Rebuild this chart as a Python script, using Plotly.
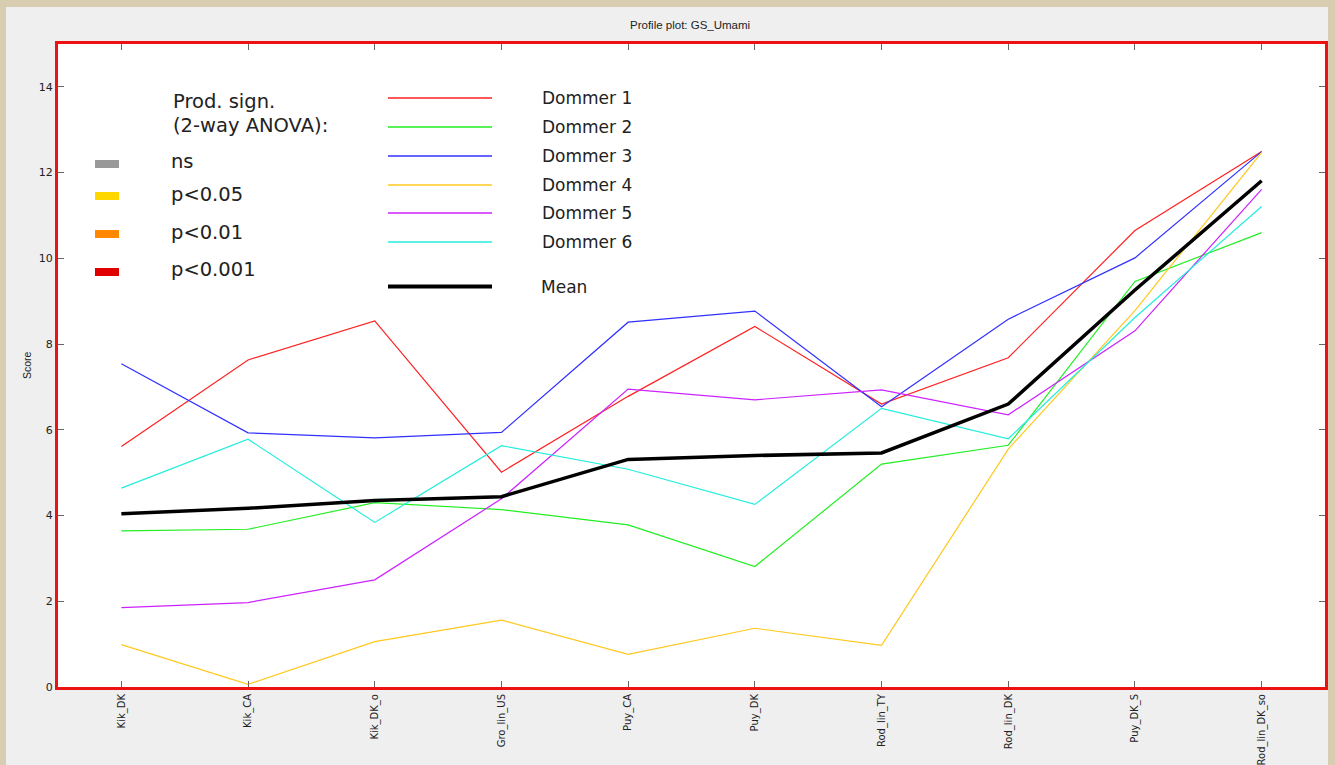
import plotly.graph_objects as go

# Products on the x axis
categories = ["Kik_DK", "Kik_CA", "Kik_DK_o", "Gro_lin_US", "Puy_CA",
              "Puy_DK", "Rod_lin_TY", "Rod_lin_DK", "Puy_DK_S", "Rod_lin_DK_so"]

# Umami scores per assessor
dommer_1 = [5.61, 7.63, 8.54, 5.01, 6.78, 8.41, 6.60, 7.68, 10.65, 12.49]
dommer_2 = [3.64, 3.68, 4.30, 4.14, 3.78, 2.81, 5.20, 5.64, 9.46, 10.60]
dommer_3 = [7.54, 5.93, 5.81, 5.94, 8.51, 8.77, 6.54, 8.58, 10.01, 12.49]
dommer_4 = [0.99, 0.06, 1.06, 1.56, 0.76, 1.37, 0.97, 5.55, 8.78, 12.47]
dommer_5 = [1.85, 1.97, 2.50, 4.39, 6.95, 6.70, 6.93, 6.35, 8.31, 11.61]
dommer_6 = [4.64, 5.78, 3.84, 5.63, 5.08, 4.26, 6.50, 5.79, 8.62, 11.21]
mean_score = [4.04, 4.17, 4.35, 4.44, 5.31, 5.40, 5.46, 6.60, 9.26, 11.81]

assessor_names = ["Dommer 1", "Dommer 2", "Dommer 3", "Dommer 4", "Dommer 5", "Dommer 6"]
assessor_colors = ["#ff2020", "#22ee22", "#3030ff", "#ffc81e", "#cc22ff", "#22eedd"]

sign_labels = ["ns", "p<0.05", "p<0.01", "p<0.001"]
sign_colors = ["#999999", "#ffd700", "#ff8800", "#e00000"]

yticks = [0, 2, 4, 6, 8, 10, 12, 14]

W, H = 1335, 765
ML, MR, MT, MB = 58, 10, 44, 78
PW, PH = W - ML - MR, H - MT - MB


def px(x):
    return (x - ML) / PW


def py(y):
    return (H - MB - y) / PH


xs = list(range(len(categories)))
fig = go.Figure()
for name, vals, col in zip(assessor_names,
                           [dommer_1, dommer_2, dommer_3, dommer_4, dommer_5, dommer_6],
                           assessor_colors):
    fig.add_trace(go.Scatter(x=xs, y=vals, mode="lines", name=name,
                             line=dict(color=col, width=1.2), showlegend=False))
fig.add_trace(go.Scatter(x=xs, y=mean_score, mode="lines", name="Mean",
                         line=dict(color="black", width=3.5), showlegend=False))

shapes = []
annotations = []

# page frame strips
frame = "#d9cdb1"
shapes += [
    dict(type="rect", xref="paper", yref="paper", x0=px(0), x1=px(W), y0=py(0), y1=py(7),
         fillcolor=frame, line=dict(width=0), layer="above"),
    dict(type="rect", xref="paper", yref="paper", x0=px(0), x1=px(6), y0=py(0), y1=py(H),
         fillcolor=frame, line=dict(width=0), layer="above"),
    dict(type="rect", xref="paper", yref="paper", x0=px(1328), x1=px(W), y0=py(0), y1=py(H),
         fillcolor=frame, line=dict(width=0), layer="above"),
]

# significance legend
left_font = dict(family="DejaVu Sans", size=19.5, color="#222")
annotations.append(dict(x=px(171), y=py(102), xref="paper", yref="paper", text="Prod. sign.",
                        showarrow=False, xanchor="left", yanchor="middle", font=left_font))
annotations.append(dict(x=px(171), y=py(126), xref="paper", yref="paper", text="(2-way ANOVA):",
                        showarrow=False, xanchor="left", yanchor="middle", font=left_font))
for lab, col, ty, ly in zip(sign_labels, sign_colors, [160, 192, 230, 268], [161, 194, 232, 269]):
    shapes.append(dict(type="rect", xref="paper", yref="paper", x0=px(95), x1=px(119),
                       y0=py(ty), y1=py(ty + 8), fillcolor=col, line=dict(width=0)))
    annotations.append(dict(x=px(169), y=py(ly), xref="paper", yref="paper", text=lab,
                            showarrow=False, xanchor="left", yanchor="middle", font=left_font))

# assessor legend
for name, col, ly in zip(assessor_names, assessor_colors, [98, 127, 156, 185, 213, 242]):
    shapes.append(dict(type="line", xref="paper", yref="paper", x0=px(388), x1=px(492),
                       y0=py(ly), y1=py(ly), line=dict(color=col, width=1.3)))
    annotations.append(dict(x=px(540), y=py(ly), xref="paper", yref="paper", text=name,
                            showarrow=False, xanchor="left", yanchor="middle",
                            font=dict(family="DejaVu Sans", size=17, color="#222")))
shapes.append(dict(type="line", xref="paper", yref="paper", x0=px(388), x1=px(492),
                   y0=py(286.5), y1=py(286.5), line=dict(color="black", width=4)))
annotations.append(dict(x=px(539), y=py(286.5), xref="paper", yref="paper", text="Mean",
                        showarrow=False, xanchor="left", yanchor="middle",
                        font=dict(family="DejaVu Sans", size=17, color="#222")))

# title and y label
annotations.append(dict(x=px(690), y=py(25), xref="paper", yref="paper",
                        text="Profile plot: GS_Umami", showarrow=False,
                        xanchor="center", yanchor="middle",
                        font=dict(family="Liberation Sans", size=11.5, color="#222")))
annotations.append(dict(x=px(27), y=py(365), xref="paper", yref="paper", text="Score",
                        showarrow=False, textangle=-90, xanchor="center", yanchor="middle",
                        font=dict(family="Liberation Sans", size=10.5, color="#222")))

axis_common = dict(showline=True, linecolor="#ee1111", linewidth=3, mirror="ticks",
                   ticks="inside", ticklen=6, tickcolor="#666", tickwidth=1,
                   showgrid=False, zeroline=False, automargin=False)

fig.update_layout(
    width=W, height=H,
    margin=dict(l=ML, r=MR, t=MT, b=MB, pad=0, autoexpand=False),
    paper_bgcolor="#efefef", plot_bgcolor="white",
    xaxis=dict(range=[-0.5, 9.5], tickvals=xs, ticktext=categories, tickangle=-90,
               tickfont=dict(family="DejaVu Sans", size=10, color="#222"), **axis_common),
    yaxis=dict(range=[0, 15], tickvals=yticks,
               tickfont=dict(family="DejaVu Sans", size=11, color="#222"), **axis_common),
    shapes=shapes, annotations=annotations, showlegend=False,
)

fig.write_html("out.html")
